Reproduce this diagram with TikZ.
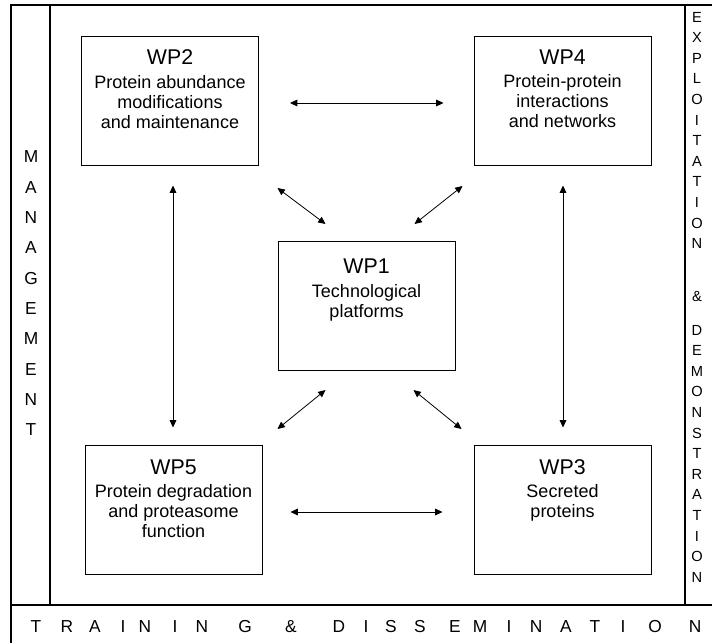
\documentclass[tikz,border=0pt]{standalone}
\usepackage{fontspec}
\setmainfont{Liberation Sans}
\usetikzlibrary{arrows.meta,calc,positioning}

\tikzset{
  frame/.style={line width=0.8pt},
  wpbox/.style={draw,line width=0.75pt,minimum width=132.75pt,minimum height=96.75pt,inner sep=0pt},
  wptext/.style={anchor=north,align=center,inner sep=0pt,font=\fontsize{13.5}{15}\selectfont},
  link/.style={line width=0.6pt,{Triangle[length=5.5pt,width=5pt]}-{Triangle[length=5.5pt,width=5pt]}},
  sideletter/.style={inner sep=0pt,font=\fontsize{13}{13}\selectfont},
  rightletter/.style={inner sep=0pt,font=\fontsize{11}{11}\selectfont}
}
\newcommand{\wptitle}[1]{{\fontsize{16}{18}\selectfont #1}\\[2.5pt]}

\begin{document}
\begin{tikzpicture}[x=0.75pt,y=-0.75pt]
    \useasboundingbox (0,0) rectangle (712,643);
    % frame
    \draw[frame] (11,643) -- (11,5) -- (712,5)
    (50,5) -- (50,605) (685,5) -- (685,605) (11,605) -- (712,605);
    % work packages
    \node[wpbox] (wp2) at (170,100.5) {};
    \node[wpbox] (wp4) at (562.5,100.5) {};
    \node[wpbox] (wp1) at (366.5,306) {};
    \node[wpbox] (wp5) at (173.5,509.5) {};
    \node[wpbox] (wp3) at (562.5,509.5) {};
    \node[wptext,below=10.5pt of wp2.north] (wp2t) {\wptitle{WP2}Protein abundance\\modifications\\and maintenance};
    \node[wptext,below=10.5pt of wp4.north] (wp4t) {\wptitle{WP4}Protein-protein\\interactions\\and networks};
    \node[wptext,below=13.5pt of wp1.north] (wp1t) {\wptitle{WP1}Technological\\platforms};
    \node[wptext,below=11pt of wp5.north] (wp5t) {\wptitle{WP5}Protein degradation\\and proteasome\\function};
    \node[wptext,below=11pt of wp3.north] (wp3t) {\wptitle{WP3}Secreted\\proteins};
    % links
    \draw[link] ($(wp2.east)+(31,2.5)$) -- ($(wp4.west)+(-30,2.5)$);
    \draw[link] ($(wp5.east)+(28,2.5)$) -- ($(wp3.west)+(-31,2.5)$);
    \draw[link] ($(wp2.south)+(3,20)$) -- ($(wp5.north)+(-0.5,-17)$);
    \draw[link] ($(wp4.south)+(0.5,20)$) -- ($(wp3.north)+(0.5,-17)$);
    \draw[link] ($(wp1.north west)+(0,-53)$) -- ($(wp1.north west)+(48,-17)$);
    \draw[link] ($(wp1.north east)+(7,-55)$) -- ($(wp1.north east)+(-41,-17)$);
    \draw[link] ($(wp1.south west)+(48,19)$) -- ($(wp1.south west)+(0,58)$);
    \draw[link] ($(wp1.south east)+(-42,19)$) -- ($(wp1.south east)+(6,58)$);
    % side bands
    \foreach \ch [count=\i from 0] in {M,A,N,A,G,E,M,E,N,T}
      \node[sideletter] (mg\i) at (31,{157+30.3*\i}) {\ch};
    \foreach \ch [count=\i from 0] in {E,X,P,L,O,I,T,A,T,I,O,N}
      \node[rightletter] (ex\i) at (697,{17+20.6*\i}) {\ch};
    \node[rightletter] (amp) at (697,296) {\&};
    \foreach \ch [count=\i from 0] in {D,E,M,O,N,S,T,R,A,T,I,O,N}
      \node[rightletter] (dm\i) at (697,{330+20.6*\i}) {\ch};
    \foreach \ch/\x [count=\i] in {T/36,R/67,A/95,I/123,N/145,I/175,N/202,G/245,\&/291,D/339,I/366,S/391,S/420,E/455,M/480,I/509,N/536,A/566,T/595,I/623,O/655,N/695}
      \node[sideletter] (tr\i) at (\x,627) {\ch};
\end{tikzpicture}
\end{document}
